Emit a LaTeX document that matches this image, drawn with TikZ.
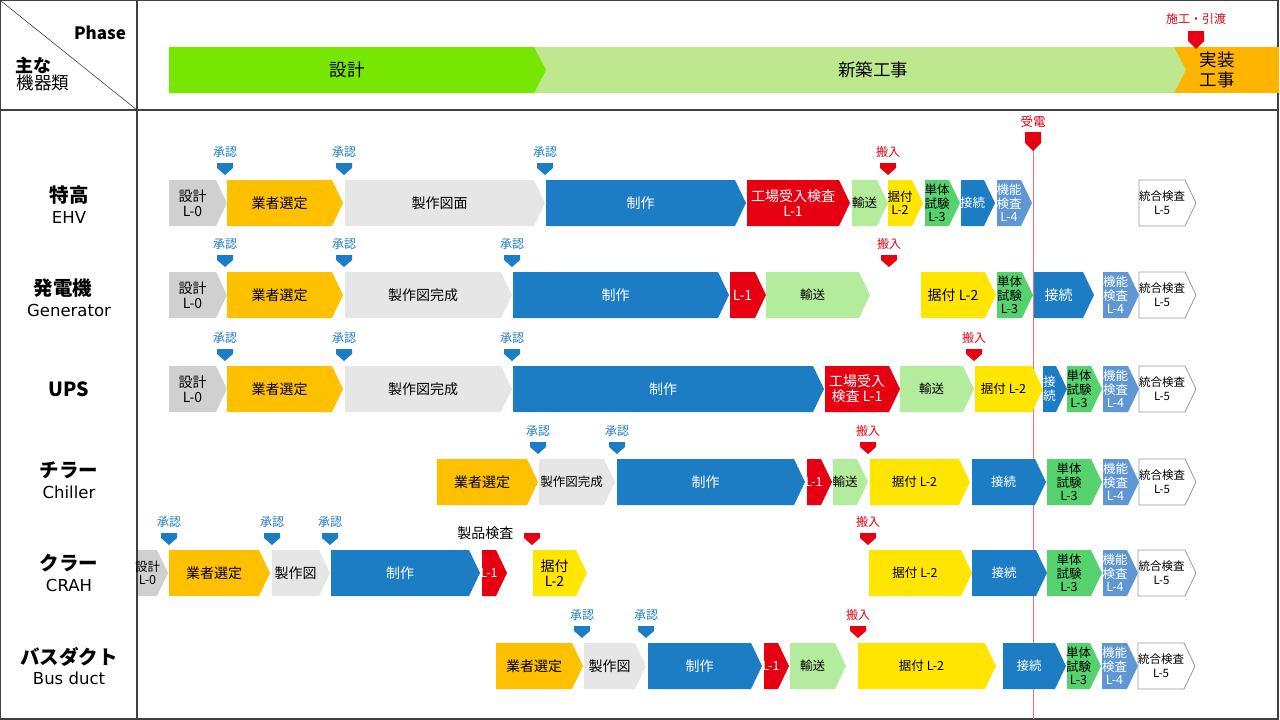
\documentclass[tikz,border=0pt]{standalone}
\usepackage{fontspec}
\setmainfont{Noto Sans CJK JP}
\newfontfamily\latinfont{DejaVu Sans}
\usepackage{tikz}
\usetikzlibrary{calc}

\definecolor{cGreen}{HTML}{77E600}
\definecolor{cLGreen}{HTML}{BDE88E}
\definecolor{cOrange}{HTML}{FFB400}
\definecolor{cGold}{HTML}{FFC000}
\definecolor{cGray}{HTML}{D0D0D0}
\definecolor{cLGray}{HTML}{E6E6E6}
\definecolor{cBlue}{HTML}{1C7CC4}
\definecolor{cRed}{HTML}{E60012}
\definecolor{cMint}{HTML}{B3EC9C}
\definecolor{cYellow}{HTML}{FFE500}
\definecolor{cTest}{HTML}{55D26E}
\definecolor{cSteel}{HTML}{5E97D3}
\definecolor{cLine}{HTML}{F07070}
\definecolor{cFrame}{HTML}{404040}

\tikzset{
    lbl/.style={font=\fontsize{14}{15}\selectfont, align=center, inner sep=0pt},
    sm/.style={font=\fontsize{12.5}{13.5}\selectfont},
    xs/.style={font=\fontsize{11.5}{14}\selectfont},
    mlbl/.style={font=\fontsize{12}{13}\selectfont, inner sep=0pt},
    rowjp/.style={font=\fontsize{19.5}{21}\selectfont\bfseries},
    rowen/.style={font=\fontsize{16.5}{18}\latinfont},
    phlbl/.style={font=\fontsize{17.5}{20}\selectfont, align=center},
    sgray/.style={fill=cGray, text=black},
    slgray/.style={fill=cLGray, text=black},
    sgold/.style={fill=cGold, text=black},
    sblue/.style={fill=cBlue, text=white},
    sred/.style={fill=cRed, text=white},
    smint/.style={fill=cMint, text=black},
    syel/.style={fill=cYellow, text=black},
    stest/.style={fill=cTest, text=black},
    ssteel/.style={fill=cSteel, text=white},
    swhite/.style={fill=white, draw=gray!80, line width=0.8pt, text=black},
    mblue/.style={fill=cBlue, text=cBlue},
    mred/.style={fill=cRed, text=cRed}
}

% stage arrow: name, x start, x end, row top, style, text
\newcommand{\stg}[6]{%
    \path[#5] (#2,#4) -- (#3-11,#4) -- (#3,#4+23) -- (#3-11,#4+46) -- (#2,#4+46) -- cycle;
    \node[lbl, #5, fill=none, draw=none] (#1) at ({(#2+#3-11)/2},#4+23) {#6};
}
% milestone mark: name, x, row top, style, text
\newcommand{\mrk}[5]{%
    \path[#4] (#2-8,#3-17) -- (#2+8,#3-17) -- (#2+8,#3-12) -- (#2,#3-5) -- (#2-8,#3-12) -- cycle;
    \node[mlbl, #4, fill=none] (#1) at (#2,#3-28) {#5};
}

\begin{document}
\begin{tikzpicture}[x=1pt,y=-1pt]
    \useasboundingbox (0,0) rectangle (1280,720);

    % Draw frame
    \coordinate (tl) at (0.7,0.7);
    \coordinate (br) at (1278,719);
    \coordinate (hd) at (137,110);
    \draw[cFrame, line width=1.2pt] (tl) rectangle (br);
    \draw[cFrame, line width=1.2pt] (hd |- tl) -- (hd |- br);
    \draw[cFrame, line width=1.2pt] (hd -| tl) -- (hd -| br);
    \draw[cFrame, line width=0.6pt] (tl) -- (hd);
    \node[font=\fontsize{17}{19}\selectfont\bfseries] (phase) at (100,33) {Phase};
    \node[font=\fontsize{18}{20}\selectfont\bfseries] (kind1) at (34,65) {主な};
    \node[font=\fontsize{17.5}{20}\selectfont] (kind2) at (43,83) {機器類};

    % Phase bars
    \fill[cOrange] (1172,47) rectangle (1279,93);
    \fill[cLGreen] (533,47) -- (1174,47) -- (1186,70) -- (1174,93) -- (533,93) -- cycle;
    \fill[cGreen] (169,47) -- (534,47) -- (546,70) -- (534,93) -- (169,93) -- cycle;
    \node[phlbl] (p1) at (347,70) {設計};
    \node[phlbl] (p2) at (873,70) {新築工事};
    \node[phlbl] (p3) at (1217,70) {実装\\工事};
    \fill[cRed] (1188,31) -- (1204,31) -- (1204,41) -- (1196,49) -- (1188,41) -- cycle;
    \node[mlbl, text=cRed] (handover) at (1196,19) {施工・引渡};

    % Power receiving line
    \draw[cLine, line width=0.8pt] (1033,150) -- (1033,719);
    \fill[cRed] (1025,132) -- (1041,132) -- (1041,143) -- (1033,151) -- (1025,143) -- cycle;
    \node[mlbl, text=cRed, font=\fontsize{12.5}{13}\selectfont] (power) at (1033,122) {受電};

    % Row names
    \node[rowjp] (r1a) at (69,195) {特高};
    \node[rowen] (r1b) at (69,217) {EHV};
    \node[rowjp] (r2a) at (63,288) {発電機};
    \node[rowen] (r2b) at (69,310) {Generator};
    \node[rowjp] (r3a) at (69,389) {UPS};
    \node[rowjp] (r4a) at (69,470) {チラー};
    \node[rowen] (r4b) at (69,492) {Chiller};
    \node[rowjp] (r5a) at (69,563) {クラー};
    \node[rowen] (r5b) at (69,585) {CRAH};
    \node[rowjp] (r6a) at (69,657) {バスダクト};
    \node[rowen] (r6b) at (69,678) {Bus duct};

    % Row 1: EHV
    \stg{a1}{169}{227}{180}{sgray}{設計\\L-0}
    \stg{a2}{227}{343}{180}{sgold}{業者選定}
    \stg{a3}{345}{545}{180}{slgray}{製作図面}
    \stg{a4}{546}{746}{180}{sblue}{制作}
    \stg{a5}{747}{850}{180}{sred}{工場受入検査\\L-1}
    \stg{a6}{852}{888}{180}{smint, sm}{輸送}
    \stg{a7}{888}{923}{180}{syel, sm}{据付\\L-2}
    \stg{a8}{925}{960}{180}{stest, sm}{単体\\試験\\L-3}
    \stg{a9}{961}{995}{180}{sblue, sm}{接続}
    \stg{a10}{997}{1032}{180}{ssteel, sm}{機能\\検査\\L-4}
    \stg{a11}{1139}{1196}{180}{swhite, xs}{統合検査\\L-5}
    \mrk{ma1}{225}{180}{mblue}{承認}
    \mrk{ma2}{344}{180}{mblue}{承認}
    \mrk{ma3}{545}{180}{mblue}{承認}
    \mrk{ma4}{888}{180}{mred}{搬入}

    % Row 2: Generator
    \stg{b1}{169}{227}{272}{sgray}{設計\\L-0}
    \stg{b2}{227}{343}{272}{sgold}{業者選定}
    \stg{b3}{345}{512}{272}{slgray}{製作図完成}
    \stg{b4}{513}{729}{272}{sblue}{制作}
    \stg{b5}{730}{766}{272}{sred}{L-1}
    \stg{b6}{766}{870}{272}{smint, sm}{輸送}
    \stg{b7}{921}{996}{272}{syel}{据付 L-2}
    \stg{b8}{997}{1033}{272}{stest, sm}{単体\\試験\\L-3}
    \stg{b9}{1034}{1094}{272}{sblue}{接続}
    \stg{b10}{1103}{1139}{272}{ssteel, sm}{機能\\検査\\L-4}
    \stg{b11}{1139}{1196}{272}{swhite, xs}{統合検査\\L-5}
    \mrk{mb1}{225}{272}{mblue}{承認}
    \mrk{mb2}{344}{272}{mblue}{承認}
    \mrk{mb3}{512}{272}{mblue}{承認}
    \mrk{mb4}{889}{272}{mred}{搬入}

    % Row 3: UPS
    \stg{c1}{169}{227}{366}{sgray}{設計\\L-0}
    \stg{c2}{227}{343}{366}{sgold}{業者選定}
    \stg{c3}{345}{512}{366}{slgray}{製作図完成}
    \stg{c4}{513}{824}{366}{sblue}{制作}
    \stg{c5}{825}{900}{366}{sred}{工場受入\\検査 L-1}
    \stg{c6}{900}{974}{366}{smint, sm}{輸送}
    \stg{c7}{975}{1043}{366}{syel, sm}{据付 L-2}
    \stg{c8}{1043}{1067}{366}{sblue, sm}{接\\続}
    \stg{c9}{1067}{1102}{366}{stest, sm}{単体\\試験\\L-3}
    \stg{c10}{1103}{1139}{366}{ssteel, sm}{機能\\検査\\L-4}
    \stg{c11}{1139}{1196}{366}{swhite, xs}{統合検査\\L-5}
    \mrk{mc1}{225}{366}{mblue}{承認}
    \mrk{mc2}{344}{366}{mblue}{承認}
    \mrk{mc3}{512}{366}{mblue}{承認}
    \mrk{mc4}{974}{366}{mred}{搬入}

    % Row 4: Chiller
    \stg{d1}{437}{538}{459}{sgold}{業者選定}
    \stg{d2}{539}{615}{459}{slgray, sm}{製作図完成}
    \stg{d3}{617}{805}{459}{sblue}{制作}
    \stg{d4}{807}{832}{459}{sred, sm}{L-1}
    \stg{d5}{833}{868}{459}{smint, sm}{輸送}
    \stg{d6}{870}{970}{459}{syel, sm}{据付 L-2}
    \stg{d7}{972}{1046}{459}{sblue, sm}{接続}
    \stg{d8}{1047}{1102}{459}{stest, sm}{単体\\試験\\L-3}
    \stg{d9}{1103}{1139}{459}{ssteel, sm}{機能\\検査\\L-4}
    \stg{d10}{1139}{1196}{459}{swhite, xs}{統合検査\\L-5}
    \mrk{md1}{538}{459}{mblue}{承認}
    \mrk{md2}{617}{459}{mblue}{承認}
    \mrk{md3}{868}{459}{mred}{搬入}

    % Row 5: CRAH
    \stg{e1}{138}{168}{550}{sgray, sm}{設計\\L-0}
    \stg{e2}{169}{270}{550}{sgold}{業者選定}
    \stg{e3}{272}{330}{550}{slgray}{製作図}
    \stg{e4}{331}{480}{550}{sblue}{制作}
    \stg{e5}{482}{507}{550}{sred, sm}{L-1}
    \stg{e6}{533}{587}{550}{syel}{据付\\L-2}
    \stg{e7}{869}{972}{550}{syel, sm}{据付 L-2}
    \stg{e8}{972}{1047}{550}{sblue, sm}{接続}
    \stg{e9}{1047}{1102}{550}{stest, sm}{単体\\試験\\L-3}
    \stg{e10}{1103}{1138}{550}{ssteel, sm}{機能\\検査\\L-4}
    \stg{e11}{1138}{1196}{550}{swhite, xs}{統合検査\\L-5}
    \mrk{me1}{169}{550}{mblue}{承認}
    \mrk{me2}{272}{550}{mblue}{承認}
    \mrk{me3}{330}{550}{mblue}{承認}
    \mrk{me4}{532}{550}{mred}{}
    \mrk{me5}{868}{550}{mred}{搬入}
    \node[font=\fontsize{14}{15}\selectfont, anchor=east] (insp) at (517,533) {製品検査};

    % Row 6: Bus duct
    \stg{f1}{496}{583}{643}{sgold}{業者選定}
    \stg{f2}{584}{646}{643}{slgray}{製作図}
    \stg{f3}{648}{762}{643}{sblue}{制作}
    \stg{f4}{764}{789}{643}{sred, sm}{L-1}
    \stg{f5}{790}{846}{643}{smint, sm}{輸送}
    \stg{f6}{858}{996}{643}{syel, sm}{据付 L-2}
    \stg{f7}{1003}{1066}{643}{sblue, sm}{接続}
    \stg{f8}{1067}{1101}{643}{stest, sm}{単体\\試験\\L-3}
    \stg{f9}{1102}{1138}{643}{ssteel, sm}{機能\\検査\\L-4}
    \stg{f10}{1138}{1195}{643}{swhite, xs}{統合検査\\L-5}
    \mrk{mf1}{582}{643}{mblue}{承認}
    \mrk{mf2}{646}{643}{mblue}{承認}
    \mrk{mf3}{858}{643}{mred}{搬入}

\end{tikzpicture}
\end{document}
